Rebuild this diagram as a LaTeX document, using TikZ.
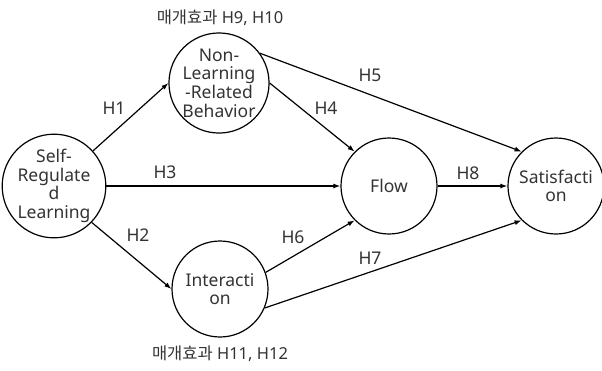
\documentclass[tikz,border=0pt]{standalone}
\usepackage{fontspec}
\setmainfont{Noto Sans}
\newfontfamily\krf{Noto Sans CJK KR}
\usetikzlibrary{arrows.meta}
\begin{document}
\begin{tikzpicture}[x=1pt,y=-1pt,
  every node/.style={font=\fontsize{17.5pt}{18.7pt}\selectfont, text=black!80},
  var/.style={draw=black, circle, line width=1.2pt, minimum size=96pt, inner sep=0pt, align=center},
  arr/.style={draw=black, line width=1.2pt, -{Latex[length=7pt,width=5pt]}},
  lbl/.style={inner sep=0pt},
  mlbl/.style={inner sep=0pt, font=\fontsize{16.5pt}{18pt}\selectfont}
]
\useasboundingbox (0,0) rectangle (602,370);
\begin{scope}
\clip (0,0) rectangle (602,370);
\node[var] (srl) at (54,186) {Self-\\Regulate\\d\\Learning};
\node[var] (nl) at (219,83) {Non-\\Learning\\-Related\\Behavior};
\node[var] (int) at (220,289) {Interacti\\on};
\node[var] (flow) at (389,186) {Flow};
\node[var] (sat) at (556,186) {Satisfacti\\on};

\draw[arr] (srl.42) -- (nl.west);
\draw[arr] (srl.-44) -- (int.west);
\draw[arr] (srl.east) -- (flow.west);
\draw[arr] (nl.east) -- (flow.135);
\draw[arr] (nl.36) -- (sat.135);
\draw[arr] (int.20) -- (flow.225);
\draw[arr] (int.-23) -- (sat.225);
\draw[arr] (flow.east) -- (sat.west);
\end{scope}

\node[lbl] (h1) at (114,108) {H1};
\node[lbl] (h2) at (138,235) {H2};
\node[lbl] (h3) at (165,172) {H3};
\node[lbl] (h4) at (326,108) {H4};
\node[lbl] (h5) at (370,75) {H5};
\node[lbl] (h6) at (293,237) {H6};
\node[lbl] (h7) at (370,258) {H7};
\node[lbl] (h8) at (468,173) {H8};
\node[mlbl] (m1) at (220,18) {{\krf 매개효과} H9, H10};
\node[mlbl] (m2) at (220,354) {{\krf 매개효과} H11, H12};
\end{tikzpicture}
\end{document}
